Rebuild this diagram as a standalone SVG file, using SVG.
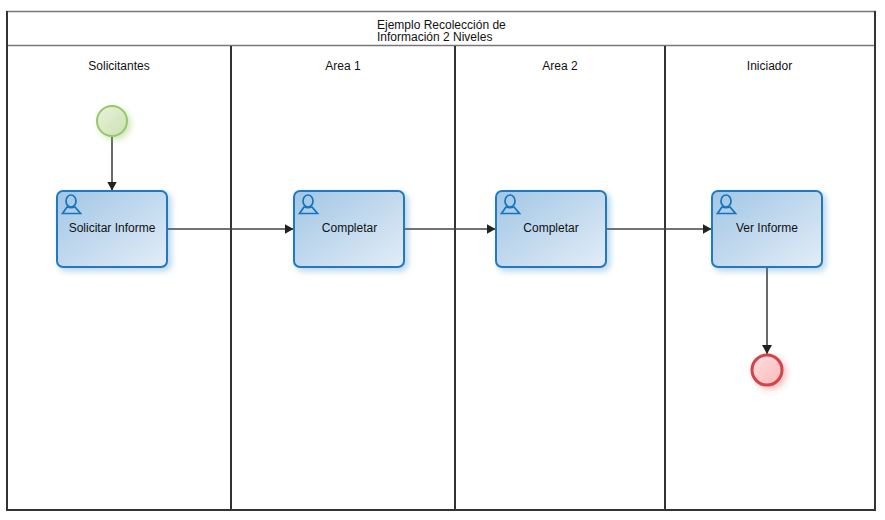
<svg xmlns="http://www.w3.org/2000/svg" width="885" height="520" viewBox="0 0 885 520">
<style>
text{font-family:"Liberation Sans",Arial,sans-serif;font-size:12px;fill:#111}
.m{text-anchor:middle}
.lane{fill:none;stroke:#333;stroke-width:2}
.head{fill:none;stroke:#777;stroke-width:1.5}
.task{fill:url(#tg);stroke:#2379bf;stroke-width:2;filter:url(#sb)}
.ic{fill:none;stroke:#1574bd;stroke-width:1.7}
.c{fill:none;stroke:#444;stroke-width:1.6;marker-end:url(#a)}
</style>
<defs>
<linearGradient id="tg" x1="0" y1="0" x2="1" y2="1"><stop offset="0" stop-color="#a1c6e5"/><stop offset="1" stop-color="#e3edf7"/></linearGradient>
<linearGradient id="gg" x1="0" y1="0" x2="1" y2="1"><stop offset="0" stop-color="#e9f2da"/><stop offset="1" stop-color="#cbe1b2"/></linearGradient>
<linearGradient id="rg" x1="0" y1="0" x2="1" y2="1"><stop offset="0" stop-color="#ffe0e0"/><stop offset="1" stop-color="#fbb8b8"/></linearGradient>
<filter id="sb" x="-20%" y="-20%" width="145%" height="145%"><feDropShadow dx="3" dy="3" stdDeviation="3" flood-color="#1f78c0" flood-opacity=".32"/></filter>
<filter id="sg" x="-40%" y="-40%" width="190%" height="190%"><feDropShadow dx="3" dy="3" stdDeviation="3" flood-color="#8dc060" flood-opacity=".4"/></filter>
<filter id="sr" x="-40%" y="-40%" width="190%" height="190%"><feDropShadow dx="3" dy="3" stdDeviation="3" flood-color="#d04040" flood-opacity=".35"/></filter>
<marker id="a" markerUnits="userSpaceOnUse" markerWidth="11" markerHeight="11" refX="9" refY="5" orient="auto"><path d="M0 0L9 5L0 10Z" fill="#222"/></marker>
<g id="user"><ellipse cx="14" cy="10" rx="5" ry="6" class="ic"/><path d="M5.500 22.500L10 16Q14 17.500 18 16L23.500 22.500Z" class="ic"/></g>
</defs>
<rect width="885" height="520" fill="#fff"/>
<g id="pool">
<rect class="head" x="7" y="11.500" width="868" height="34"/>
<text x="377" y="29">Ejemplo Recolección de</text>
<text x="377" y="41">Información 2 Niveles</text>
</g>
<g id="lane-solicitantes"><path class="lane" d="M7 11V510H231V46"/><text class="m" x="119" y="70">Solicitantes</text></g>
<g id="lane-area1"><path class="lane" d="M231 510H455V46"/><text class="m" x="343" y="70">Area 1</text></g>
<g id="lane-area2"><path class="lane" d="M455 510H665V46"/><text class="m" x="560" y="70">Area 2</text></g>
<g id="lane-iniciador"><path class="lane" d="M665 510H875V11"/><text class="m" x="769.500" y="70">Iniciador</text></g>
<g id="connectors">
<path class="c" d="M112 136.500V190.500"/>
<path class="c" d="M168 229H293.500"/>
<path class="c" d="M405 229H495.500"/>
<path class="c" d="M607 229H711.500"/>
<path class="c" d="M767 268V354"/>
</g>
<g id="start"><circle cx="112" cy="121" r="15" fill="url(#gg)" stroke="#96c76b" stroke-width="2" filter="url(#sg)"/></g>
<g id="task-solicitar"><rect class="task" x="57" y="191" width="110" height="76" rx="6"/><use href="#user" x="57" y="191"/><text class="m" x="112" y="232">Solicitar Informe</text></g>
<g id="task-completar1"><rect class="task" x="294" y="191" width="110" height="76" rx="6"/><use href="#user" x="294" y="191"/><text class="m" x="349.500" y="232">Completar</text></g>
<g id="task-completar2"><rect class="task" x="496" y="191" width="110" height="76" rx="6"/><use href="#user" x="496" y="191"/><text class="m" x="551" y="232">Completar</text></g>
<g id="task-ver"><rect class="task" x="712" y="191" width="110" height="76" rx="6"/><use href="#user" x="712" y="191"/><text class="m" x="767" y="232">Ver Informe</text></g>
<g id="end"><circle cx="767" cy="370" r="15" fill="url(#rg)" stroke="#d04448" stroke-width="3" filter="url(#sr)"/></g>
</svg>
